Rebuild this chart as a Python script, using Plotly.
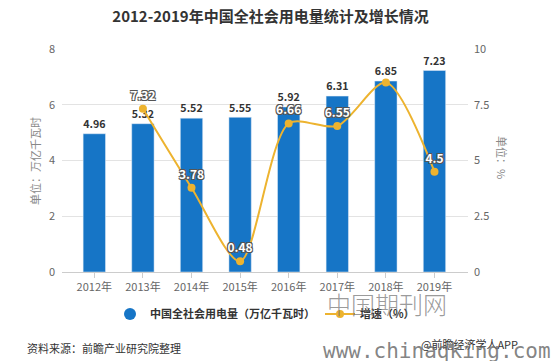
import plotly.graph_objects as go

years = ["2012年", "2013年", "2014年", "2015年", "2016年", "2017年", "2018年", "2019年"]
consumption = [4.96, 5.32, 5.52, 5.55, 5.92, 6.31, 6.85, 7.23]
growth_years = ["2013年", "2014年", "2015年", "2016年", "2017年", "2018年", "2019年"]
growth = [7.32, 3.78, 0.48, 6.66, 6.55, 8.5, 4.5]
growth_labels = ["7.32", "3.78", "0.48", "6.66", "6.55", "", "4.5"]

BLUE = "#1675c6"
GOLD = "#edb32f"
FONT = "Noto Sans CJK SC"

W, H = 552, 361
L, R, T, B = 62, 468, 49, 272


def px(x):
    return (x - L) / (R - L)


def py(y):
    return (B - y) / (B - T)


fig = go.Figure()

fig.add_trace(go.Bar(
    x=years, y=consumption, marker_color=BLUE, width=0.46,
    text=[f"{v:.2f}" for v in consumption], textposition="outside",
    textfont=dict(size=12, color="#333333", family=FONT, weight="bold"),
    cliponaxis=False, showlegend=False, hoverinfo="skip",
))

fig.add_trace(go.Scatter(
    x=[None], y=[None], mode="markers",
    marker=dict(symbol="circle", size=12, color=BLUE),
    name="中国全社会用电量（万亿千瓦时）", showlegend=True,
))

fig.add_trace(go.Scatter(
    x=growth_years, y=growth, yaxis="y2", mode="lines+markers+text",
    line=dict(color=GOLD, width=2, shape="spline", smoothing=0.8),
    marker=dict(size=8, color=GOLD),
    text=growth_labels, textposition="top center",
    textfont=dict(size=12, color="#ffffff", family=FONT, weight="bold",
                  shadow="-1px -1px 0 #555, 1px -1px 0 #555, -1px 1px 0 #555, 1px 1px 0 #555"),
    cliponaxis=False, name="增速（%）",
))


def note(text, x, y, size, color, family=FONT, angle=0, xanchor="center", weight=None):
    f = dict(size=size, color=color, family=family)
    if weight is not None:
        f["weight"] = weight
    return dict(text=text, x=px(x), y=py(y), xref="paper", yref="paper",
                xanchor=xanchor, yanchor="middle", showarrow=False, textangle=angle, font=f)


annotations = [
    note("单位：万亿千瓦时", 35, 161, 11, "#888888", angle=-90),
    note("单位：%", 502, 157, 11, "#888888", angle=90),
    note("资料来源：前瞻产业研究院整理", 25, 348, 11, "#333333", xanchor="left"),
    note("@前瞻经济学人APP", 520, 344, 11, "#333333", xanchor="right"),
    note("中国期刊网", 387, 303, 24, "rgba(110,110,110,0.7)", weight=300),
    note("www.chinaqking.com", 437, 351, 21, "rgba(100,100,100,0.8)", family="DejaVu Sans Mono"),
]

fig.update_layout(
    width=W, height=H,
    margin=dict(l=L, r=W - R, t=T, b=H - B, autoexpand=False),
    paper_bgcolor="white", plot_bgcolor="white",
    font=dict(family=FONT, size=11, color="#666666"),
    title=dict(text="<b>2012-2019年中国全社会用电量统计及增长情况</b>", x=0.49, xanchor="center",
               y=1 - 17 / H, yanchor="middle", font=dict(size=15, color="#333333", family=FONT)),
    xaxis=dict(type="category", range=[-0.665, 7.69], showgrid=False, showline=True,
               linecolor="#cccccc", ticks="outside", ticklen=5, tickcolor="#cccccc",
               tickfont=dict(size=11, color="#666666"), fixedrange=True),
    yaxis=dict(range=[0, 8], dtick=2, showgrid=True, gridcolor="#e3e3e3", zeroline=False,
               showline=False, tickfont=dict(size=11, color="#666666"), ticks="", ticklabelstandoff=6),
    yaxis2=dict(range=[0, 10], dtick=2.5, overlaying="y", side="right", showgrid=False,
                zeroline=False, showline=False, tickfont=dict(size=11, color="#666666"), ticklabelstandoff=5),
    legend=dict(orientation="h", x=0.5, xanchor="center", y=py(314), yanchor="middle",
                font=dict(size=11, color="#333333", family=FONT, weight="bold"), itemwidth=30,
                traceorder="normal"),
    annotations=annotations,
    bargap=0.5,
)

fig.write_html("out.html", config={"displayModeBar": False},
               post_script="document.body.style.margin='0';document.body.style.overflow='hidden';")
